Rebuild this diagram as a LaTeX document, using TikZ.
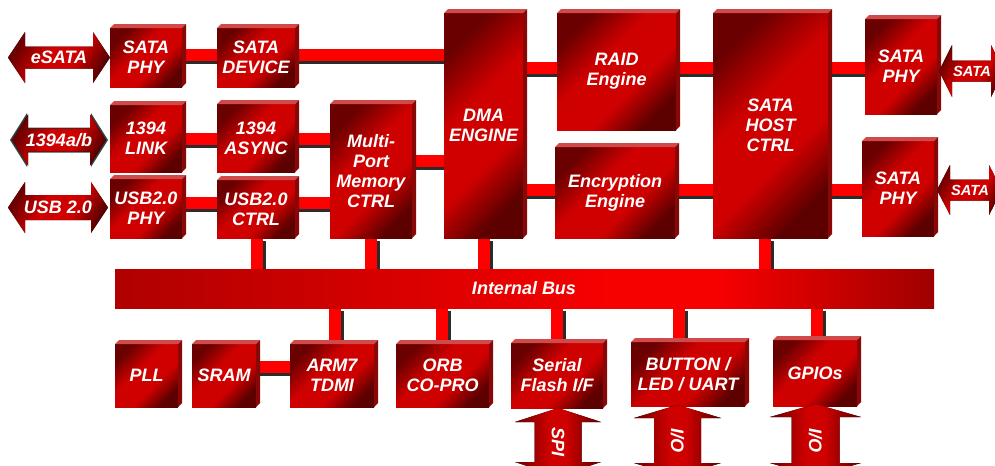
\documentclass[tikz,border=0pt]{standalone}
\usepackage{fontspec}
\setmainfont{Liberation Sans}
\usetikzlibrary{calc}
\pgfdeclarelayer{background}
\pgfsetlayers{background,main}
\definecolor{bxd}{HTML}{6A0000}
\definecolor{bxm}{HTML}{CE0000}
\definecolor{bxe}{HTML}{5C0000}
\definecolor{topc}{HTML}{D04A4A}
\definecolor{sidec}{HTML}{880808}
\definecolor{barc}{HTML}{FF0000}
\definecolor{shc}{HTML}{2B2B2B}
\definecolor{busl}{HTML}{B00000}
\definecolor{busm}{HTML}{F60000}
\definecolor{busr}{HTML}{A00000}
\definecolor{fwedge}{HTML}{2E4A4A}
\pgfdeclarehorizontalshading{boxsh}{100bp}{color(0bp)=(bxd); color(25bp)=(bxd); color(42bp)=(bxm); color(60bp)=(bxm); color(75bp)=(bxe); color(100bp)=(bxe)}
\pgfdeclarehorizontalshading{bussh}{100bp}{color(0bp)=(busl); color(25bp)=(busl); color(55bp)=(busm); color(62bp)=(busm); color(75bp)=(busr); color(100bp)=(busr)}
\pgfdeclarehorizontalshading{varsh}{100bp}{color(0bp)=(bxd); color(25bp)=(bxd); color(45bp)=(bxm); color(55bp)=(bxm); color(75bp)=(bxe); color(100bp)=(bxe)}
\newcommand\bxfont{\bfseries\itshape\fontsize{13.5}{15}\selectfont}
\tikzset{
  blk/.style={shade, shading=boxsh, shading angle=-45, inner sep=0pt, outer sep=0pt,
    text=white, align=center, font=\bxfont},
  topface/.style={fill=topc},
  sideface/.style={fill=sidec},
  bar/.style={draw=barc, line width=9pt},
  barsh/.style={draw=shc, line width=9pt, transform canvas={shift={(2.25pt,-2.25pt)}}},
  arrsh/.style={shade, shading=boxsh, shading angle=-30},
  varrsh/.style={shade, shading=varsh, shading angle=0},
  albl/.style={text=white, font=\bxfont, inner sep=0pt},
  buslbl/.style={shade, shading=bussh, shading angle=0, inner sep=0pt, outer sep=0pt,
    text=white, font=\bxfont},
}
% name, x1, y1, x2, y2, text
\newcommand\mkblk[6]{%
  \node[blk, minimum width={(#4-#2-4)*0.75pt}, minimum height={(#5-#3-4)*0.75pt}]
    (#1) at ({(#2+#4-4)/2},{(#3+#5+4)/2}) {#6};
  \fill[topface] (#1.north west) -- ++(4,-4) -- ([shift={(4,-4)}]#1.north east) -- (#1.north east) -- cycle;
  \fill[sideface] (#1.north east) -- ++(4,-4) -- ([shift={(4,-4)}]#1.south east) -- (#1.south east) -- cycle;
}
% name, xl, xr, yc, head half, body half, head length, text, text x
\newcommand\harrow[9]{%
  \fill[arrsh] (#2,#4) -- ({#2+#7},{#4-#5}) -- ({#2+#7},{#4-#6}) -- ({#3-#7},{#4-#6})
    -- ({#3-#7},{#4-#5}) -- (#3,#4) -- ({#3-#7},{#4+#5}) -- ({#3-#7},{#4+#6})
    -- ({#2+#7},{#4+#6}) -- ({#2+#7},{#4+#5}) -- cycle;
  \node[albl] (#1) at (#9,#4) {#8};
}
% name, xc, ytop, ybot, head half, body half, head length, text, text y
\newcommand\varrow[9]{%
  \fill[varrsh] (#2,#3) -- ({#2+#5},{#3+#7}) -- ({#2+#6},{#3+#7}) -- ({#2+#6},{#4-#7})
    -- ({#2+#5},{#4-#7}) -- (#2,#4) -- ({#2-#5},{#4-#7}) -- ({#2-#6},{#4-#7})
    -- ({#2-#6},{#3+#7}) -- ({#2-#5},{#3+#7}) -- cycle;
  \node[albl, rotate=-90] (#1) at (#2,#9) {#8};
}
\newcommand\conn[2]{\draw[barsh] #1 -- #2; \draw[bar] #1 -- #2;}
\begin{document}
\begin{tikzpicture}[x=0.75pt,y=-0.75pt]
\useasboundingbox (0,0) rectangle (995,465);
\clip (0,0) rectangle (995,465);
% blocks
\mkblk{phyA}{110}{24}{186}{87}{SATA\\PHY}
\mkblk{devA}{217}{24}{299}{87}{SATA\\DEVICE}
\mkblk{link}{110}{101}{186}{172}{1394\\LINK}
\mkblk{async}{217}{100}{299}{172}{1394\\ASYNC}
\mkblk{mpmc}{330}{100}{416}{238}{Multi-\\Port\\Memory\\CTRL}
\mkblk{usbphy}{110}{175}{186}{238}{USB2.0\\PHY}
\mkblk{usbctrl}{217}{176}{299}{238}{USB2.0\\CTRL}
\mkblk{dma}{444}{9}{527}{238}{DMA\\ENGINE}
\mkblk{raid}{557}{9}{680}{130}{RAID\\Engine}
\mkblk{enc}{555}{143}{679}{238}{Encryption\\Engine}
\mkblk{host}{713}{9}{832}{238}{SATA\\HOST\\CTRL}
\mkblk{phyB}{865}{15}{941}{114}{SATA\\PHY}
\mkblk{phyC}{862}{137}{938}{236}{SATA\\PHY}
\mkblk{pll}{115}{340}{182}{407}{PLL}
\mkblk{sram}{192}{340}{260}{407}{SRAM}
\mkblk{arm}{290}{340}{378}{407}{ARM7\\TDMI}
\mkblk{orb}{396}{340}{493}{407}{ORB\\CO-PRO}
\mkblk{sflash}{511}{339}{607}{408}{Serial\\Flash I/F}
\mkblk{button}{631}{338}{749}{406}{BUTTON /\\LED / UART}
\mkblk{gpio}{773}{336}{861}{406}{GPIOs}
% internal bus
\node[buslbl, minimum width={819*0.75pt}, minimum height={39*0.75pt}] (bus) at (524.5,288.5) {};
\node[albl] (buslabel) at (524,288) {Internal Bus};
% external arrows
\harrow{esata}{8}{110}{57.5}{25.5}{11}{17}{eSATA}{59}
\fill[fwedge] (10,140) -- (27,113) -- (27,127.5) -- (91,127.5) -- (91,113) -- (108,140) -- (91,167) -- (91,152.5) -- (27,152.5) -- (27,167) -- cycle;
\harrow{fw}{12}{106}{140}{25.5}{11.5}{16}{1394a/b}{59}
\harrow{usb}{8}{108}{207.5}{25.5}{12.5}{17}{USB 2.0}{58}
\harrow{sataB}{939}{1004}{71}{26}{10.5}{13}{\fontsize{11}{13}\selectfont SATA}{972}
\harrow{sataC}{937}{1002}{190}{25}{10.5}{13}{\fontsize{11}{13}\selectfont SATA}{970}
\varrow{spi}{558}{408}{476}{43}{23.5}{14}{\fontsize{13.5}{15}\selectfont SPI}{442}
\varrow{io1}{677.5}{405}{476}{43.5}{23.5}{13}{\fontsize{13.5}{15}\selectfont I/O}{440}
\varrow{io2}{815.5}{404}{476}{45.5}{24}{13}{\fontsize{13.5}{15}\selectfont I/O}{440}
% connectors
\begin{pgfonlayer}{background}
\conn{(phyA.east |- 0,55)}{(devA.west |- 0,55)}
\conn{(devA.east |- 0,55)}{(dma.west |- 0,55)}
\conn{(link.east |- 0,139)}{(async.west |- 0,139)}
\conn{(async.east |- 0,139)}{(mpmc.west |- 0,139)}
\conn{(mpmc.east |- 0,161)}{(dma.west |- 0,161)}
\conn{(usbphy.east |- 0,203)}{(usbctrl.west |- 0,203)}
\conn{(usbctrl.east |- 0,203)}{(mpmc.west |- 0,203)}
\conn{(dma.east |- 0,68)}{(raid.west |- 0,68)}
\conn{(raid.east |- 0,68)}{(host.west |- 0,68)}
\conn{(host.east |- 0,68)}{(phyB.west |- 0,68)}
\conn{(dma.east |- 0,190)}{(enc.west |- 0,190)}
\conn{(enc.east |- 0,190)}{(host.west |- 0,190)}
\conn{(host.east |- 0,190)}{(phyC.west |- 0,190)}
\conn{(sram.east |- 0,367)}{(arm.west |- 0,367)}
\conn{(usbctrl.south -| 257,0)}{(bus.north -| 257,0)}
\conn{(mpmc.south -| 371,0)}{(bus.north -| 371,0)}
\conn{(dma.south -| 484,0)}{(bus.north -| 484,0)}
\conn{(host.south -| 765,0)}{(bus.north -| 765,0)}
\conn{(bus.south -| 335,0)}{(arm.north -| 335,0)}
\conn{(bus.south -| 442,0)}{(orb.north -| 442,0)}
\conn{(bus.south -| 557,0)}{(sflash.north -| 557,0)}
\conn{(bus.south -| 679,0)}{(button.north -| 679,0)}
\conn{(bus.south -| 817,0)}{(gpio.north -| 817,0)}
\end{pgfonlayer}
\end{tikzpicture}
\end{document}
